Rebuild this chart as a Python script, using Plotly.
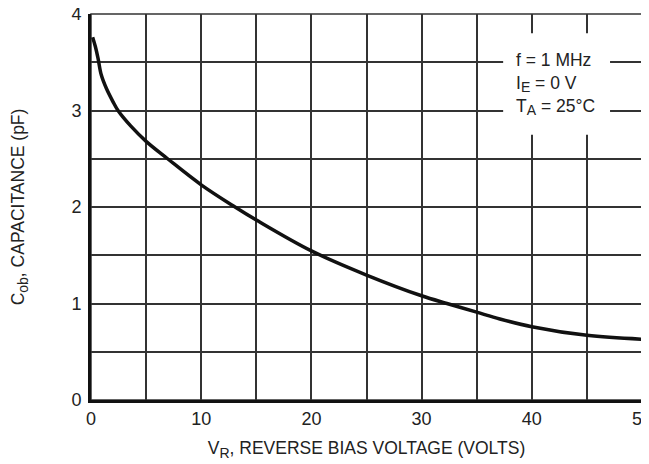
import plotly.graph_objects as go

# Data
v_r = [0.15, 0.4, 0.64, 0.93, 1.39, 2.0, 2.45, 3.6, 5, 6.95, 10, 13.07, 15, 20, 25, 30, 32.3, 35, 37.1, 40, 45, 50]
c_ob = [3.76, 3.66, 3.54, 3.37, 3.23, 3.09, 3.0, 2.84, 2.68, 2.5, 2.23, 2.0, 1.865, 1.545, 1.295, 1.08, 1.0, 0.91, 0.84, 0.76, 0.67, 0.63]
x_ticks = [0, 10, 20, 30, 40, 50]
y_ticks = [0, 1, 2, 3, 4]
SUB = '<sub><span style="font-size:14px">{}</span></sub>'
note_lines = ["f = 1 MHz", "I" + SUB.format("E") + " = 0 V", "T" + SUB.format("A") + " = 25°C"]
x_title = "V" + SUB.format("R") + ", REVERSE BIAS VOLTAGE (VOLTS)"
y_title = "C" + SUB.format("ob") + ", CAPACITANCE (pF)"

FONT = "Liberation Sans Narrow, Arial Narrow, Liberation Sans, Arial, sans-serif"
TXT = "#222222"
grid_color = "#333333"

fig = go.Figure()
fig.add_trace(go.Scatter(
    x=v_r, y=c_ob, mode="lines",
    line=dict(color="#111111", width=3.5, shape="spline", smoothing=1.0),
    hoverinfo="skip", showlegend=False,
))

fig.update_xaxes(
    range=[0, 50], tickvals=x_ticks, ticktext=[str(t) for t in x_ticks],
    showgrid=True, gridcolor=grid_color, gridwidth=1.5,
    minor=dict(dtick=5, tick0=0, showgrid=True, gridcolor=grid_color, gridwidth=1.5),
    showline=True, linecolor="#111111", linewidth=3,
    ticks="", zeroline=False, automargin=False, ticklabeloverflow="allow",
    tickfont=dict(family=FONT, size=18, color=TXT),
    title=dict(text=x_title, font=dict(family=FONT, size=17.5, color=TXT), standoff=15),
)
fig.update_yaxes(
    range=[0, 4], tickvals=y_ticks, ticktext=[str(t) for t in y_ticks],
    showgrid=True, gridcolor=grid_color, gridwidth=1.5,
    minor=dict(dtick=0.5, tick0=0, showgrid=True, gridcolor=grid_color, gridwidth=1.5),
    showline=True, linecolor="#111111", linewidth=3,
    ticks="", zeroline=False, automargin=False, ticklabelstandoff=3,
    ticklabeloverflow="allow",
    tickfont=dict(family=FONT, size=18, color=TXT),
    title=dict(text=y_title, font=dict(family=FONT, size=17.5, color=TXT), standoff=44),
)

# thin border on top/right
fig.add_shape(type="rect", xref="paper", yref="paper", x0=0, y0=0, x1=1, y1=1,
              line=dict(color=grid_color, width=1.5), layer="below")

# white box behind the conditions note
fig.add_shape(type="rect", xref="x", yref="y", x0=37.4, x1=47.1, y0=2.75, y1=3.80,
              fillcolor="white", line=dict(width=0), layer="above")
fig.add_annotation(
    xref="x", yref="y", x=38.4, y=3.27, xanchor="left", yanchor="middle",
    text="<br>".join(note_lines), showarrow=False, align="left",
    font=dict(family=FONT, size=17.5, color=TXT),
)

# page body has an 8px margin; compensate so the plot lands where the reference has it
fig.update_layout(
    width=641, height=456,
    margin=dict(l=83, r=7, t=6, b=64),
    paper_bgcolor="white", plot_bgcolor="white",
    font=dict(family=FONT),
)

fig.write_html("out.html")
